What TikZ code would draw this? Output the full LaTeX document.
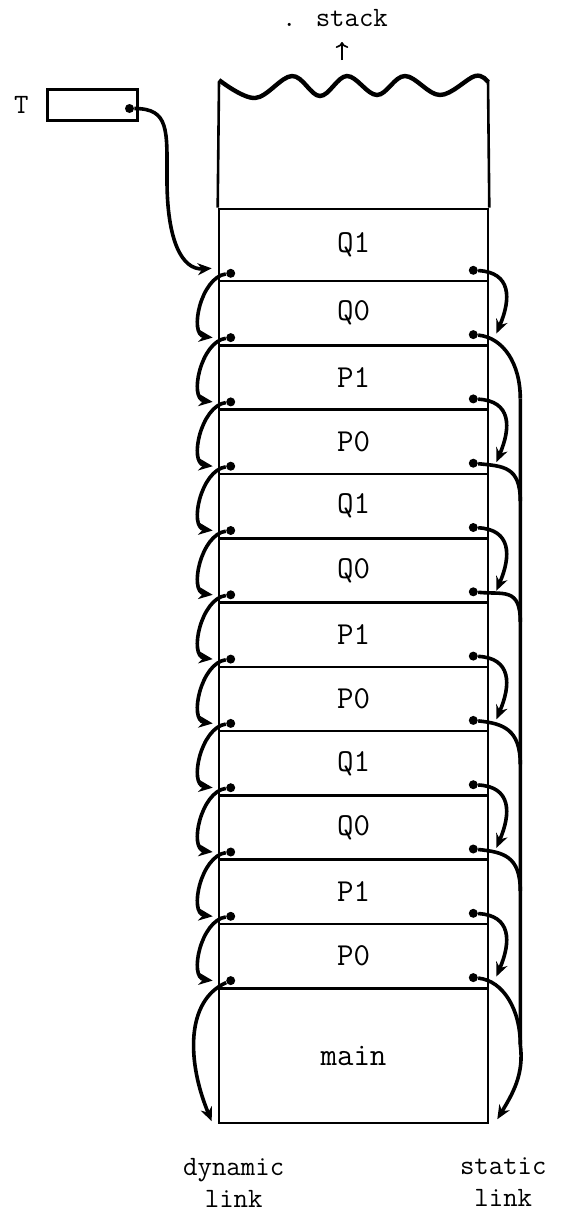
\documentclass[tikz,border=0pt]{standalone}
\usepackage{fontspec}
\usepackage{tikz}
\usetikzlibrary
  {
    arrows.meta,              % arrow heads
    calc,                     % coordinate arithmetic
    positioning,              % place nodes relative to other nodes
  }

\tikzset{
  frame/.style={draw, line width=1.3pt, minimum width=134.5pt, inner sep=0pt,
                font=\ttfamily\fontsize{16}{18}\selectfont},
  field/.style={circle, fill, inner sep=0pt, minimum size=4.5pt},
  linkline/.style={line width=1.8pt},
  link/.style={linkline, -{Stealth[length=7pt, width=6pt]}},
}

\begin{document}
\begin{tikzpicture}[x=0.5pt, y=-0.5pt, font=\ttfamily\fontsize{14}{16}\selectfont]
  \useasboundingbox (0,0) rectangle (564,1212);

  % the frames, top to bottom
  \node [frame, minimum height=36pt] (f0) at (353.5,245) {Q1};
  \foreach \lab [count=\i] in {Q0,P1,P0,Q1,Q0,P1,P0,Q1,Q0,P1,P0}
    \node [frame, minimum height=32.15pt] (f\i) at (353.5,{281+64.3*(\i-0.5)}) {\lab};
  \node [frame, minimum height=67.35pt] (f12) at (353.5,1055.6) {main};

  % open top of the stack
  \draw [line width=1.3pt] (f0.north west) -- (219,82);
  \draw [line width=1.3pt] (f0.north east) -- (488,80);
  \draw [line width=2.2pt] plot [smooth, tension=0.6] coordinates
    {(219,80) (255,98) (292,76) (320,96) (347,76) (377,95) (405,76) (440,95) (475,76) (488,82)};

  \node (stk) at (335,18) {. stack};
  \coordinate (grow) at (342,60);
  \draw [-{To[length=3pt]}, line width=0.8pt] (grow) -- ++(0,-18);

  % the pointer T
  \node [draw, line width=1.5pt, minimum width=45pt, minimum height=15.5pt] (tvar) at (92,104.5) {};
  \node [left=5pt of tvar] (tname) {T};
  \node [field] (tdot) at ($(tvar.east)+(-9,4)$) {};

  % link fields at the foot of each frame
  \foreach \i in {0,...,11}
    {
      \node [field] (d\i) at ($(f\i.south west)+(13,-9)$) {};
      \node [field] (s\i) at ($(f\i.south east)+(-16,-12)$) {};
    }

  % where the arrows land
  \coordinate (dt0) at ($(f0.south west)+(-6,-14)$);
  \foreach \i in {1,...,11}
    {
      \coordinate (dt\i) at ($(f\i.south west)+(-5,-9)$);
      \coordinate (st\i) at ($(f\i.south east)+(7,-13)$);
    }
  \coordinate (dt12) at ($(f12.south west)+(-6,-3)$);
  \coordinate (st12) at ($(f12.south east)+(8,-5)$);

  \coordinate (tbend) at (167,180);
  \draw [linkline] (tdot) .. controls +(40,0) and +(0,-50) .. (tbend);
  \draw [link] (tbend) .. controls +(0,60) and +(-30,2) .. (dt0);

  % dynamic links
  \foreach \i [evaluate=\i as \j using int(\i+1)] in {0,...,10}
    \draw [link] (d\i) .. controls +(-30,4) and +(-24,-3) .. (dt\j);
  \draw [link] (d11) .. controls +(-45,20) and +(-25,-60) .. (dt12);

  % static links, short ones
  \foreach \i [evaluate=\i as \j using int(\i+1)] in {0,2,...,10}
    \draw [link] (s\i) .. controls +(38,2) and +(15,-35) .. (st\j);

  % static links, long ones, all run into one line down to main
  \foreach \i/\dy in {1/52,3/26,5/18,7/32,9/30,11/55}
    {
      \coordinate (j\i) at ($(f\i.south east)+(31,\dy)$);
      \draw [linkline] (s\i) .. controls +(30,3) and +(0,-35) .. (j\i);
    }
  \draw [link] (j1) -- (j11) .. controls +(4,30) and +(15,-25) .. (st12);

  \node [align=center] (dyn) at ($(f12.south west)+(16,59)$) {dynamic\\link};
  \node [align=center] (sta) at ($(f12.south east)+(14,58)$) {static\\link};
\end{tikzpicture}
\end{document}
